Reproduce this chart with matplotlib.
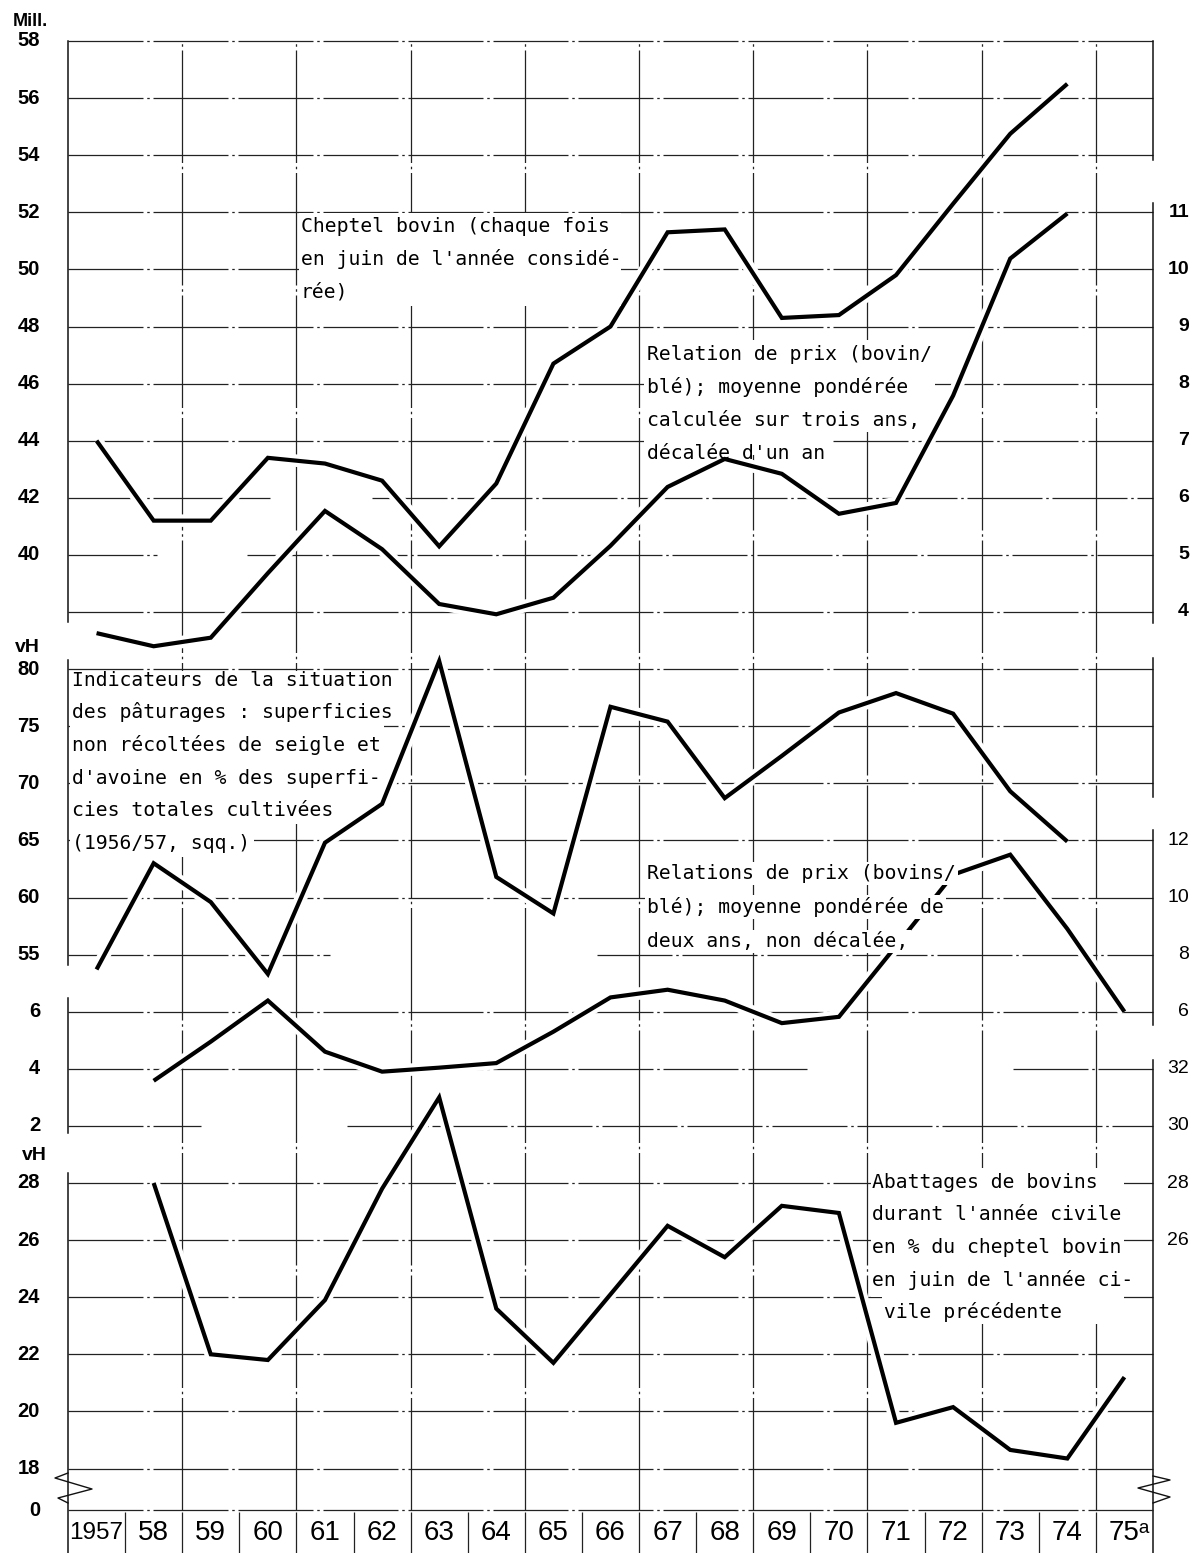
import numpy as np
import matplotlib
matplotlib.use("Agg")
import matplotlib.pyplot as plt
import matplotlib.patheffects as pe
from matplotlib.patches import Rectangle
from matplotlib.transforms import blended_transform_factory as blend

# ---------------------------------------------------------------- data
years_stock = list(range(1957, 1975))
cattle_stock = [44.0, 41.2, 41.2, 43.4, 43.2, 42.6, 40.3, 42.5, 46.7,
                48.0, 51.3, 51.4, 48.3, 48.4, 49.8, 52.3, 54.75, 56.5]

years_ratio3 = list(range(1957, 1975))
price_ratio3 = [3.63, 3.40, 3.55, 4.68, 5.77, 5.10, 4.14, 3.96, 4.25,
                5.16, 6.19, 6.68, 6.42, 5.72, 5.91, 7.79, 10.19, 10.98]

years_pasture = list(range(1957, 1975))
pasture_share = [53.7, 63.0, 59.6, 53.3, 64.8, 68.2, 80.7, 61.8, 58.6,
                 76.7, 75.4, 68.7, 72.4, 76.2, 77.9, 76.1, 69.3, 64.9]

years_ratio2 = list(range(1958, 1976))
price_ratio2 = [3.58, 4.95, 6.39, 4.60, 3.90, 4.04, 4.20, 5.30, 6.50,
                6.77, 6.39, 5.60, 5.82, 8.30, 10.80, 11.50, 8.90, 6.00]

years_slaughter = list(range(1958, 1976))
slaughter_rate = [28.0, 22.0, 21.8, 23.9, 27.8, 31.0, 23.6, 21.7, 24.1,
                  26.5, 25.4, 27.2, 26.95, 19.6, 20.15, 18.65, 18.35, 21.2]

year_labels = ["1957", "58", "59", "60", "61", "62", "63", "64", "65", "66",
               "67", "68", "69", "70", "71", "72", "73", "74", "75ᵃ"]

stock_ticks = [40, 42, 44, 46, 48, 50, 52, 54, 56, 58]
ratio3_ticks = [4, 5, 6, 7, 8, 9, 10, 11]
pasture_ticks = [55, 60, 65, 70, 75, 80]
ratio2_left_ticks = [2, 4, 6]
ratio2_right_ticks = [6, 8, 10, 12]
slaughter_left_ticks = [18, 20, 22, 24, 26, 28]
slaughter_right_ticks = [26, 28, 30, 32]

# ---------------------------------------------------------------- layout
W, H = 1194, 1553
X0, X1 = 68, 1153          # plot area, pixels
Y0, YB = 41, 1510
STEP = 57.1                # one grid row in pixels
NROWS = (YB - Y0) / STEP
XLIM = (1956.5, 1975.5)

MONO = ["DejaVu Sans Mono"]
SANS = ["Liberation Sans", "DejaVu Sans"]

GRID = dict(color="#222222", lw=0.9, linestyle=(0, (60, 3, 2, 3)),
            clip_on=False, zorder=1)
VGRID = dict(color="#222222", lw=0.9, linestyle=(0, (90, 3, 2, 3)),
             clip_on=False, zorder=1)
BORDER = dict(color="#111111", lw=1.1, clip_on=False, zorder=1)

fig = plt.figure(figsize=(W / 100, H / 100), dpi=100)
fig.patch.set_facecolor("white")


def rect(x0, y0, x1, y1):
    return [x0 / W, 1 - y1 / H, (x1 - x0) / W, (y1 - y0) / H]


def px_to_year(x):
    return XLIM[0] + (x - X0) / (X1 - X0) * (XLIM[1] - XLIM[0])


def px_to_frac(y):
    return (YB - y) / (YB - Y0)


frame = fig.add_axes(rect(X0, Y0, X1, YB), zorder=0)
frame.set_xlim(*XLIM)
frame.set_ylim(0, 1)
frame.set_autoscale_on(False)
frame.set_axis_off()


def series_axes(v_ref, row, per_row):
    """Transparent axes sharing the plot rectangle; v_ref sits on grid row `row`."""
    ax = fig.add_axes(rect(X0, Y0, X1, YB), zorder=1)
    ax.set_xlim(*XLIM)
    ax.set_ylim(v_ref - (NROWS - row) * per_row, v_ref + row * per_row)
    ax.set_autoscale_on(False)
    ax.set_axis_off()
    return ax


ax_stock = series_axes(58, 0, 2)
ax_r3 = series_axes(11, 3, 1)
ax_past = series_axes(80, 11, 5)
ax_r2 = series_axes(6, 17, 2)
ax_sl = series_axes(28, 20, 2)


def hgrid(sax, values, segs=None):
    tr = blend(frame.transData, sax.transData)
    for v in values:
        for a, b in (segs or [(X0, X1)]):
            frame.plot([px_to_year(a), px_to_year(b)], [v, v], transform=tr, **GRID)


# horizontal grid, each row drawn on the scale of its own panel
hgrid(ax_stock, [38, 44, 46, 48, 50, 52, 54, 56, 58])
hgrid(ax_stock, [42], [(X0, 270), (372, X1)])
hgrid(ax_stock, [40], [(X0, 157), (247, X1)])
hgrid(ax_past, [60, 65, 70, 75, 80])
hgrid(ax_past, [55], [(X0, 330), (597, X1)])
hgrid(ax_r2, [6])
hgrid(ax_r2, [4], [(X0, 807), (1013, X1)])
hgrid(ax_r2, [2], [(X0, 201), (347, X1)])
hgrid(ax_sl, [18, 20, 22, 24, 26, 28])

# vertical grid every second year
for xv in np.arange(1958.5, 1975, 2):
    frame.plot([xv, xv], [0, 1], **VGRID)

# left and right borders, broken between the panels
for a, b in [(Y0, 622), (660, 965), (998, 1133), (1173, H)]:
    frame.plot([XLIM[0]] * 2, [px_to_frac(a), px_to_frac(b)], **BORDER)
for a, b in [(Y0, 160), (203, 623), (658, 797), (830, 1025), (1060, H)]:
    frame.plot([XLIM[1]] * 2, [px_to_frac(a), px_to_frac(b)], **BORDER)

# axis-break zigzags near the bottom
zl = [(68, 1473), (55, 1478), (92, 1489), (58, 1498), (68, 1503)]
zr = [(1153, 1476), (1170, 1480), (1138, 1488), (1170, 1497), (1153, 1503)]
for pts in (zl, zr):
    frame.plot([px_to_year(p[0]) for p in pts], [px_to_frac(p[1]) for p in pts],
               color="#111111", lw=1.0, clip_on=False, zorder=2)

# ---------------------------------------------------------------- series
halo = [pe.Stroke(linewidth=9, foreground="white", joinstyle="round"), pe.Normal()]
LINE = dict(color="black", lw=3.0, solid_joinstyle="miter",
            solid_capstyle="butt", path_effects=halo, zorder=3)

ax_stock.plot(years_stock, cattle_stock, **LINE)
ax_r3.plot(years_ratio3, price_ratio3, **LINE)
ax_past.plot(years_pasture, pasture_share, **LINE)
ax_r2.plot(years_ratio2, price_ratio2, **LINE)
ax_sl.plot(years_slaughter, slaughter_rate, **LINE)

# ---------------------------------------------------------------- axis labels
XL = (40 - X0) / (X1 - X0)
XR = (1189 - X0) / (X1 - X0)


def labels(ax, vals, side, bold=True, size=14.5):
    tr = ax.get_yaxis_transform()
    for v in vals:
        ax.text(XL if side == "left" else XR, v, f"{v:g}", transform=tr,
                ha="right", va="center", fontsize=size, family=SANS,
                fontweight="bold" if bold else "normal", clip_on=False)


labels(ax_stock, stock_ticks, "left")
labels(ax_r3, ratio3_ticks, "right", bold=True, size=14)
labels(ax_past, pasture_ticks, "left")
labels(ax_r2, ratio2_left_ticks, "left")
labels(ax_r2, ratio2_right_ticks, "right", bold=False, size=14)
labels(ax_sl, slaughter_left_ticks, "left")
labels(ax_sl, slaughter_right_ticks, "right", bold=False, size=14)

tr = ax_stock.get_yaxis_transform()
ax_stock.text((30 - X0) / (X1 - X0), 58.7, "Mill.", transform=tr, ha="center",
              va="center", fontsize=13, family=SANS, fontweight="bold")
ax_past.text(XL, 81.85, "vH", transform=ax_past.get_yaxis_transform(),
             ha="right", va="center", fontsize=14, family=SANS, fontweight="bold")
ax_sl.text((47 - X0) / (X1 - X0), 28.95, "vH", transform=ax_sl.get_yaxis_transform(),
           ha="right", va="center", fontsize=14, family=SANS, fontweight="bold")
frame.text(XL, 0, "0", transform=frame.transAxes, ha="right", va="center",
           fontsize=14.5, family=SANS, fontweight="bold")

# ---------------------------------------------------------------- year strip
ax_year = fig.add_axes(rect(X0, YB, X1, H), zorder=0)
ax_year.set_xlim(*XLIM)
ax_year.set_ylim(0, 1)
ax_year.set_axis_off()
ax_year.plot(list(XLIM), [1, 1], **GRID)
ax_year.vlines(np.arange(1957.5, 1975, 1), 0, 0.96, color="#222222", lw=0.9)
for yr, lab in zip(range(1957, 1976), year_labels):
    size = 17.5 if len(lab) == 4 else 20
    ax_year.text(yr + (0.08 if lab.endswith("ᵃ") else 0), 0.47, lab,
                 ha="center", va="center", fontsize=size, family=SANS)

# ---------------------------------------------------------------- notes


def white_boxes(boxes):
    for x0, y0, x1, y1 in boxes:
        fig.add_artist(Rectangle((x0 / W, 1 - y1 / H), (x1 - x0) / W, (y1 - y0) / H,
                                 transform=fig.transFigure, facecolor="white",
                                 edgecolor="none", zorder=5))


def note(x, baselines, lines, boxed_lines=False):
    for yb, s in zip(baselines, lines):
        kw = {}
        if boxed_lines:
            kw["bbox"] = dict(boxstyle="square,pad=0.12", fc="white", ec="none")
        fig.text(x / W, 1 - yb / H, s, ha="left", va="baseline", fontsize=14.2,
                 family=MONO, color="black", zorder=6, **kw)


white_boxes([(299, 213, 621, 306)])
note(301, [232, 265, 298],
     ["Cheptel bovin (chaque fois", "en juin de l'année considé-", "rée)"])

white_boxes([(644, 340, 935, 400), (644, 400, 922, 432), (644, 432, 830, 455)])
note(647, [360, 393, 426, 459],
     ["Relation de prix (bovin/", "blé); moyenne pondérée",
      "calculée sur trois ans,", "décalée d'un an"])

white_boxes([(70, 671, 397, 725), (70, 725, 384, 792),
             (70, 792, 336, 824), (70, 824, 254, 857)])
note(72, [686, 718.5, 751, 784, 816.5, 849],
     ["Indicateurs de la situation", "des pâturages : superficies",
      "non récoltées de seigle et", "d'avoine en % des superfi-",
      "cies totales cultivées", "(1956/57, sqq.)"])

note(647, [879, 913, 947],
     ["Relations de prix (bovins/", "blé); moyenne pondérée de",
      "deux ans, non décalée,"], boxed_lines=True)

white_boxes([(871, 1168, 1124, 1297), (882, 1297, 1124, 1324)])
note(872, [1188, 1220.5, 1253, 1285.5, 1318],
     ["Abattages de bovins", "durant l'année civile", "en % du cheptel bovin",
      "en juin de l'année ci-", " vile précédente"])

fig.savefig("out.png", dpi=100, facecolor="white")
